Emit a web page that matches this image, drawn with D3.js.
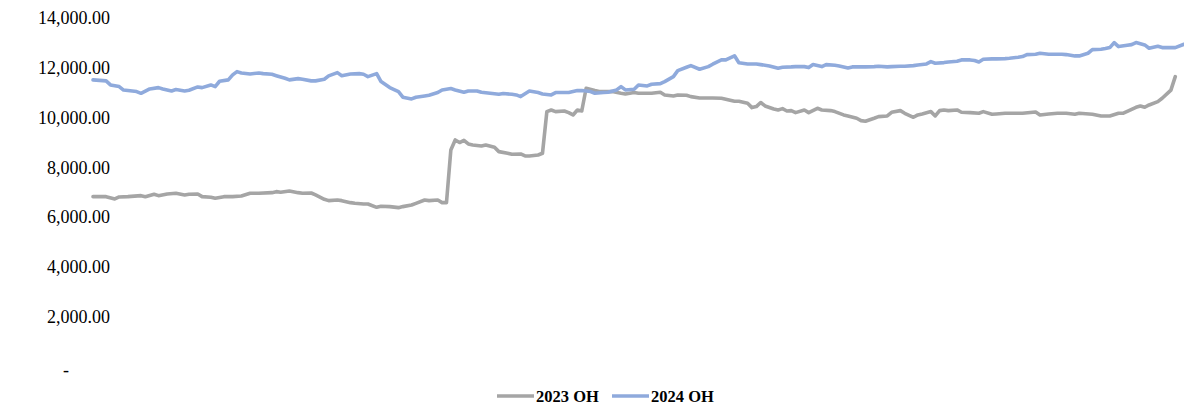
<!DOCTYPE html>
<html>
<head>
<meta charset="utf-8">
<script src="https://cdn.jsdelivr.net/npm/d3@7/dist/d3.min.js"></script>
<style>
  html, body { margin: 0; padding: 0; background: #fff; }
  svg { display: block; }
  text { font-family: "Liberation Serif", "Times New Roman", serif; }
</style>
</head>
<body>
<svg id="chart" width="1184" height="406"></svg>
<script>
// ---- data (trading-day index, value) ----
const seriesNames = ["2023 OH", "2024 OH"];
const dayCount = 250;
const yTicks = [0, 2000, 4000, 6000, 8000, 10000, 12000, 14000];

const days2023 = [0,3,5,6,8,11,12,14,15,17,19,21,22,24,25,27,28,30,32,34,36,38,41,42,43,45,47,48,50,51,53,54,56,57,59,60,62,63,65,66,68,70,71,73,74,76,77,79,80,81,82,83,84,85,86,87,89,90,92,93,95,96,98,99,100,102,103,104,105,106,108,109,110,111,112,113,115,116,118,119,121,122,124,125,127,128,130,131,133,134,136,137,139,141,142,144,145,147,148,150,151,152,153,154,156,157,158,159,160,161,163,164,166,167,169,170,172,173,175,176,177,179,180,182,183,185,186,188,189,190,192,193,194,195,196,198,199,201,203,204,206,207,209,211,213,216,217,219,221,223,225,226,229,231,233,235,236,238,239,240,241,242,244,245,247,248];
const oh2023 = [6813,6813,6720,6800,6813,6853,6813,6910,6853,6920,6950,6880,6910,6920,6813,6787,6746,6813,6813,6840,6950,6950,6974,7014,6987,7040,6974,6950,6960,6880,6707,6652,6680,6652,6572,6545,6519,6519,6384,6425,6412,6370,6412,6479,6545,6680,6652,6680,6572,6572,8692,9094,8990,9080,8933,8893,8853,8893,8800,8625,8558,8518,8531,8450,8450,8490,8558,10234,10301,10234,10260,10194,10100,10301,10260,11173,11080,11040,11040,11040,10973,10945,11000,10973,10973,10973,11013,10905,10865,10905,10892,10838,10784,10784,10784,10770,10730,10650,10650,10570,10395,10435,10600,10462,10342,10301,10355,10260,10274,10194,10301,10194,10368,10301,10274,10234,10100,10060,9967,9871,9845,9967,10033,10060,10207,10274,10167,10006,10100,10140,10234,10060,10274,10301,10274,10301,10207,10194,10167,10234,10127,10140,10167,10167,10167,10221,10100,10140,10167,10167,10127,10167,10127,10060,10060,10167,10167,10328,10409,10462,10409,10502,10636,10770,11100,11643];

const days2024 = [0,3,4,6,7,10,11,13,15,16,18,19,21,22,24,25,27,28,29,31,32,33,34,36,38,39,41,42,44,45,47,48,50,51,53,54,56,57,59,61,62,63,65,66,68,70,71,73,74,76,77,79,80,82,83,85,86,88,89,91,93,94,96,97,98,100,102,103,105,106,108,109,111,112,114,115,117,118,120,121,122,124,125,127,128,130,131,133,134,136,137,139,141,142,144,145,147,148,150,152,153,155,157,158,160,161,163,164,165,167,168,170,171,173,174,176,177,179,180,182,183,185,186,188,189,191,192,193,195,196,198,199,201,202,203,204,206,207,209,210,212,213,214,216,217,219,220,222,223,225,226,228,229,231,232,233,234,235,237,238,239,241,242,244,245,247,248,250];
const oh2024 = [11509,11470,11307,11240,11100,11040,10970,11146,11200,11146,11066,11120,11066,11093,11227,11200,11307,11240,11455,11510,11710,11843,11790,11750,11790,11763,11736,11680,11575,11510,11562,11536,11470,11470,11536,11670,11803,11680,11750,11763,11736,11643,11763,11442,11200,11040,10813,10745,10813,10865,10892,11000,11106,11160,11106,11013,11066,11066,11013,10973,10933,10960,10933,10905,10838,11060,11000,10945,10905,11000,11000,11000,11080,11080,11040,10973,11000,11013,11106,11240,11106,11133,11307,11267,11335,11360,11442,11643,11884,12018,12085,11938,12044,12140,12314,12314,12480,12200,12150,12152,12125,12072,11979,12018,12032,12044,12044,12005,12125,12044,12125,12098,12072,11992,12032,12032,12032,12044,12058,12032,12044,12058,12058,12085,12112,12152,12246,12180,12206,12233,12260,12314,12314,12290,12233,12340,12354,12354,12367,12380,12421,12448,12528,12541,12582,12541,12541,12541,12528,12475,12475,12582,12729,12743,12770,12810,13011,12850,12904,12930,13011,12917,12783,12863,12810,12810,12810,12944];

const colors = ["#A5A5A5", "#8FAADC"];

// ---- chart ----
const svg = d3.select("#chart");
const margin = { left: 93, right: 0 };
const W = 1184;

const x = d3.scaleLinear().domain([0, dayCount]).range([margin.left, W - margin.right]);
const y = d3.scaleLinear().domain([0, 14000]).range([366, 18]);

const fmt = d => d === 0 ? "-" : d3.format(",.2f")(d);

const yAxis = d3.axisLeft(y).tickValues(yTicks).tickFormat(fmt).tickSize(0).tickPadding(0);
const gy = svg.append("g").attr("transform", "translate(110,0)").call(yAxis);
gy.select(".domain").remove();
gy.selectAll("text")
  .attr("fill", "#000")
  .style("font-size", "18px")
  .attr("dy", "0.33em")
  .attr("x", 0)
  .filter(d => d === 0)
  .attr("x", -41)
  .attr("dy", "0.5em");

const line = d3.line().x(d => x(d[0])).y(d => y(d[1]));

const series = [
  { name: seriesNames[0], pts: days2023.map((d, i) => [d, oh2023[i]]), color: colors[0] },
  { name: seriesNames[1], pts: days2024.map((d, i) => [d, oh2024[i]]), color: colors[1] }
];

svg.append("g").selectAll("path").data(series).join("path")
  .attr("d", s => line(s.pts))
  .attr("fill", "none")
  .attr("stroke", s => s.color)
  .attr("stroke-width", 3.6)
  .attr("stroke-linejoin", "round")
  .attr("stroke-linecap", "round");

// legend
const legendItems = [
  { name: seriesNames[0], color: colors[0], x: 497 },
  { name: seriesNames[1], color: colors[1], x: 612 }
];
const lg = svg.append("g").selectAll("g").data(legendItems).join("g")
  .attr("transform", d => `translate(${d.x},396)`);
lg.append("line").attr("x1", 0).attr("x2", 37).attr("y1", 0).attr("y2", 0)
  .attr("stroke", d => d.color).attr("stroke-width", 3.6);
lg.append("text").attr("x", 39).attr("y", 0).attr("dy", "0.35em")
  .style("font-size", "16.5px").style("font-weight", "bold").attr("fill", "#000")
  .text(d => d.name);
</script>
</body>
</html>
